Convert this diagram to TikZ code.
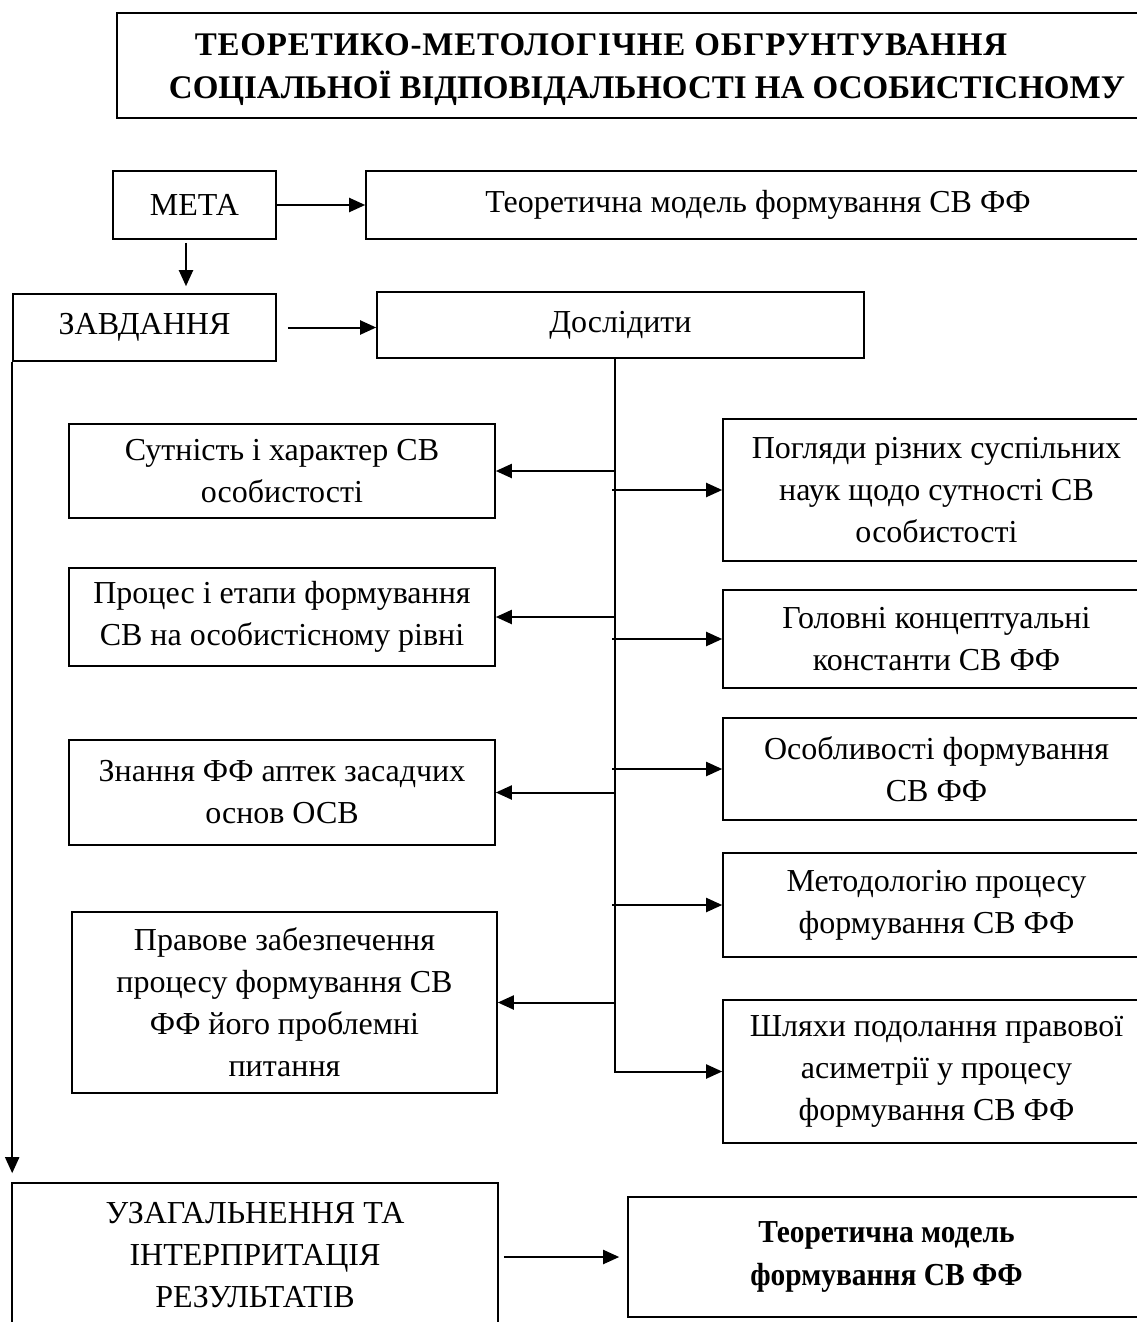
\documentclass[tikz,border=0pt]{standalone}
\usepackage{fontspec}
\setmainfont{Liberation Serif}
\usetikzlibrary{arrows.meta}
\newcommand{\narrow}[1]{\scalebox{0.92}[1]{#1}}
\begin{document}
\begin{tikzpicture}[x=1pt,y=-1pt,
  box/.style={draw, line width=1.6pt, align=center, inner sep=0pt,
              font=\fontsize{32}{42}\selectfont},
  bbox/.style={box, font=\bfseries\fontsize{32}{42}\selectfont},
  ttl/.style={anchor=base, inner sep=0pt, font=\bfseries\fontsize{33}{42}\selectfont},
  arr/.style={line width=2pt, -{Triangle[length=16pt,width=14pt]}},
  ln/.style={line width=2pt}]
\clip (0,0) rectangle (1137,1322);
\fill[white] (0,0) rectangle (1137,1322);

% title block
\node[box, minimum width=1083, minimum height=105] (title) at (658.5,65.5) {};
\node[ttl] (t1) at (601,56) {\addfontfeature{LetterSpace=2.5}ТЕОРЕТИКО-МЕТОЛОГІЧНЕ ОБГРУНТУВАННЯ};
\node[ttl] (t2) at (647,98) {СОЦІАЛЬНОЇ ВІДПОВІДАЛЬНОСТІ НА ОСОБИСТІСНОМУ};

% goal and tasks
\node[box, minimum width=163, minimum height=68] (meta) at (194.5,205) {МЕТА};
\node[box, minimum width=784, minimum height=68] (goal) at (758,205) {Теоретична модель формування СВ ФФ};
\node[box, minimum width=263, minimum height=67] (zavd) at (144.5,327.5) {ЗАВДАННЯ};
\node[box, minimum width=487, minimum height=66] (dosl) at (620.5,325) {Дослідити};

% left column
\node[box, minimum width=426, minimum height=94] (sutn) at (282,471) {Сутність і характер СВ\\особистості};
\node[box, minimum width=426, minimum height=98] (proc) at (282,617) {Процес і етапи формування\\СВ на особистісному рівні};
\node[box, minimum width=426, minimum height=105] (znan) at (282,792.5) {Знання ФФ аптек засадчих\\основ ОСВ};
\node[box, minimum width=425, minimum height=181] (prav) at (284.5,1002.5) {Правове забезпечення\\процесу формування СВ\\ФФ його проблемні\\питання};

% right column
\node[box, minimum width=427, minimum height=142] (pogl) at (936.5,490) {Погляди різних суспільних\\наук щодо сутності СВ\\особистості};
\node[box, minimum width=427, minimum height=98] (golov) at (936.5,639) {Головні концептуальні\\константи СВ ФФ};
\node[box, minimum width=427, minimum height=102] (osobl) at (936.5,769) {Особливості формування\\СВ ФФ};
\node[box, minimum width=427, minimum height=104] (metod) at (936.5,905) {Методологію процесу\\формування СВ ФФ};
\node[box, minimum width=427, minimum height=143] (shlyakh) at (936.5,1071.5) {Шляхи подолання правової\\асиметрії у процесу\\формування СВ ФФ};

% results
\node[box, minimum width=486, minimum height=144] (uzag) at (255,1255) {УЗАГАЛЬНЕННЯ ТА\\ІНТЕРПРИТАЦІЯ\\РЕЗУЛЬТАТІВ};
\node[bbox, minimum width=517, minimum height=120] (model) at (886.5,1257) {\narrow{Теоретична модель}\\[1pt]\narrow{формування СВ ФФ}};

% connectors
\draw[arr] (meta.east) -- (goal.west);
\draw[arr, shorten >=7pt] ([xshift=-8.5pt,yshift=-3pt]meta.south) -- ([xshift=-8.5pt]meta.south |- zavd.north);
\draw[arr, shorten <=11pt] (zavd.east) -- (dosl.west |- zavd.east);

\coordinate (tt) at ([xshift=-5.5pt]dosl.south);
\draw[arr] (tt) |- (shlyakh.west);
\foreach \n in {sutn,proc,znan,prav}
  \draw[arr] (\n.east -| tt) -- (\n.east);
\foreach \n in {pogl,golov,osobl,metod}
  \draw[arr] ([xshift=-3pt]\n.west -| tt) -- (\n.west);

\draw[arr] (zavd.south west) -- ([yshift=9pt]zavd.south west |- uzag.north);
\draw[arr, shorten <=5pt, shorten >=8pt] (uzag.east |- model.west) -- (model.west);
\end{tikzpicture}
\end{document}
